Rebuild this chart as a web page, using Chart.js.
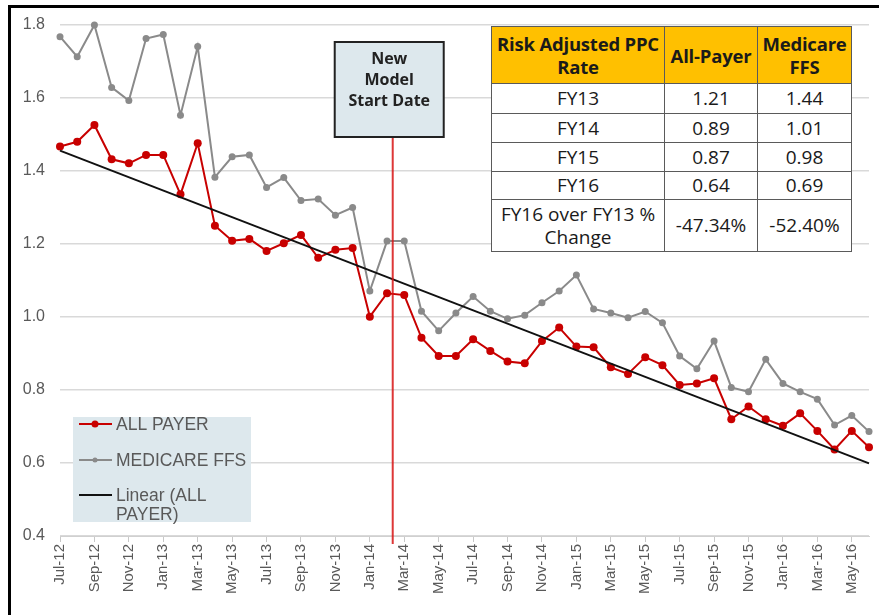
<!DOCTYPE html>
<html>
<head>
<meta charset="utf-8">
<script src="https://cdn.jsdelivr.net/npm/chart.js@4.4.1/dist/chart.umd.min.js"></script>
<style>
  body { margin: 0; background: #fff; }
  #wrap { position: relative; width: 879px; height: 615px; overflow: hidden; }
  #frameLeft { position: absolute; left: 8px; top: 5px; width: 3px; height: 610px; background: #000; }
  #frameTop { position: absolute; left: 8px; top: 5px; width: 871px; height: 3px; background: #000; }
  #ppcTable {
    position: absolute; left: 491px; top: 26px; border-collapse: collapse; table-layout: fixed;
    font-family: "Open Sans", Lato, sans-serif; font-size: 19px; color: #1a1a1a;
    background: #fff;
  }
  #ppcTable td, #ppcTable th { border: 1.5px solid #5a5a5a; text-align: center; padding: 0; line-height: 23px; white-space: nowrap; }
  #ppcTable th { background: #ffc000; font-weight: bold; font-size: 18.5px; letter-spacing: -0.2px; }
</style>
</head>
<body>
<div id="wrap">
  <canvas id="ppcChart" width="879" height="615"></canvas>
  <table id="ppcTable">
    <thead>
      <tr style="height:57px"><th style="width:172px">Risk Adjusted PPC<br>Rate</th><th style="width:92px">All-Payer</th><th style="width:93px">Medicare<br>FFS</th></tr>
    </thead>
    <tbody id="tablaBody"></tbody>
  </table>
  <div id="frameLeft"></div>
  <div id="frameTop"></div>
</div>
<script>
const meses = ['Jul-12','Aug-12','Sep-12','Oct-12','Nov-12','Dec-12','Jan-13','Feb-13','Mar-13','Apr-13','May-13','Jun-13',
  'Jul-13','Aug-13','Sep-13','Oct-13','Nov-13','Dec-13','Jan-14','Feb-14','Mar-14','Apr-14','May-14','Jun-14',
  'Jul-14','Aug-14','Sep-14','Oct-14','Nov-14','Dec-14','Jan-15','Feb-15','Mar-15','Apr-15','May-15','Jun-15',
  'Jul-15','Aug-15','Sep-15','Oct-15','Nov-15','Dec-15','Jan-16','Feb-16','Mar-16','Apr-16','May-16','Jun-16'];
const allPayer = [1.467,1.480,1.526,1.432,1.421,1.444,1.444,1.336,1.476,1.250,1.209,1.214,
  1.181,1.202,1.225,1.162,1.184,1.189,1.001,1.065,1.060,0.943,0.893,0.893,
  0.939,0.907,0.878,0.873,0.934,0.971,0.919,0.917,0.862,0.844,0.890,0.868,
  0.814,0.818,0.832,0.720,0.755,0.720,0.702,0.736,0.688,0.637,0.688,0.643];
const medicareFFS = [1.768,1.713,1.800,1.629,1.593,1.763,1.774,1.553,1.741,1.383,1.439,1.444,
  1.355,1.382,1.319,1.323,1.279,1.300,1.071,1.208,1.208,1.016,0.962,1.011,
  1.056,1.016,0.995,1.005,1.039,1.071,1.115,1.022,1.011,0.998,1.015,0.984,
  0.893,0.858,0.934,0.807,0.795,0.884,0.818,0.795,0.775,0.704,0.730,0.686];
// tendencia lineal (ALL PAYER): extremos
const trendMeses = ['Jul-12', 'Jun-16'];
const trendValores = [1.456, 0.599];
// posicion de la linea "New Model Start Date" (indice de mes, entre Feb-14 y Mar-14)
const inicioModelo = 19.33;
const yTicks = [0.4, 0.6, 0.8, 1.0, 1.2, 1.4, 1.6, 1.8];

const tablaFilas = ['FY13', 'FY14', 'FY15', 'FY16'];
const tablaAllPayer = ['1.21', '0.89', '0.87', '0.64'];
const tablaMedicare = ['1.44', '1.01', '0.98', '0.69'];
const tablaCambio = ['-47.34%', '-52.40%'];

const ROJO = '#c80000';
const GRIS = '#8a8a8a';

function llenarTabla() {
    const tbody = document.getElementById('tablaBody');
    const alturas = [30, 29, 29, 28];
    tablaFilas.forEach((fila, i) => {
        tbody.innerHTML += `<tr style="height:${alturas[i]}px"><td>${fila}</td><td>${tablaAllPayer[i]}</td><td>${tablaMedicare[i]}</td></tr>`;
    });
    tbody.innerHTML += `<tr style="height:52px"><td>FY16 over FY13 %<br>Change</td><td>${tablaCambio[0]}</td><td>${tablaCambio[1]}</td></tr>`;
}

const extrasPlugin = {
    id: 'extras',
    afterDatasetsDraw(chart) {
        const ctx = chart.ctx;
        const x = chart.scales.x;
        const y = chart.scales.y;
        const i0 = Math.floor(inicioModelo);
        const px = x.getPixelForValue(i0) + (x.getPixelForValue(i0 + 1) - x.getPixelForValue(i0)) * (inicioModelo - i0);

        ctx.save();
        // linea vertical
        ctx.strokeStyle = 'rgba(215,20,20,0.85)';
        ctx.lineWidth = 2;
        ctx.beginPath();
        ctx.moveTo(px, 137);
        ctx.lineTo(px, y.bottom + 8);
        ctx.stroke();

        // caja "New Model Start Date"
        const bx = px - 58, bw = 109, by = 42, bh = 95;
        ctx.fillStyle = '#dde8ed';
        ctx.fillRect(bx, by, bw, bh);
        ctx.strokeStyle = '#222';
        ctx.lineWidth = 2;
        ctx.strokeRect(bx, by, bw, bh);
        ctx.fillStyle = '#222';
        ctx.font = 'bold 16px "Open Sans", sans-serif';
        ctx.textAlign = 'center';
        ctx.textBaseline = 'middle';
        ['New', 'Model', 'Start Date'].forEach((t, i) => ctx.fillText(t, bx + bw / 2, 59 + i * 21));

        // leyenda
        ctx.fillStyle = '#dde8ed';
        ctx.fillRect(73, 417, 178, 105);
        const items = [
            { label: ['ALL PAYER'], color: ROJO, r: 3.5, yy: 424 },
            { label: ['MEDICARE FFS'], color: GRIS, r: 2.5, yy: 460 },
            { label: ['Linear (ALL', 'PAYER)'], color: '#111', r: 0, yy: 495 }
        ];
        ctx.textAlign = 'left';
        ctx.font = '17.5px "Liberation Sans", Arial, sans-serif';
        items.forEach(it => {
            ctx.strokeStyle = it.color;
            ctx.lineWidth = 2;
            ctx.beginPath();
            ctx.moveTo(79, it.yy);
            ctx.lineTo(112, it.yy);
            ctx.stroke();
            if (it.r) {
                ctx.fillStyle = it.color;
                ctx.beginPath();
                ctx.arc(95, it.yy, it.r, 0, Math.PI * 2);
                ctx.fill();
            }
            ctx.fillStyle = '#595959';
            it.label.forEach((t, k) => ctx.fillText(t, 116, it.yy + 1 + k * 19));
        });
        ctx.restore();
    }
};

function crearGrafico() {
    const ctx = document.getElementById('ppcChart').getContext('2d');
    new Chart(ctx, {
        type: 'line',
        data: {
            labels: meses,
            datasets: [
                {
                    label: 'ALL PAYER',
                    data: allPayer,
                    borderColor: ROJO,
                    backgroundColor: ROJO,
                    borderWidth: 2,
                    pointRadius: 4,
                    pointBorderWidth: 0,
                    tension: 0,
                    clip: false,
                    order: 2
                },
                {
                    label: 'MEDICARE FFS',
                    data: medicareFFS,
                    borderColor: GRIS,
                    backgroundColor: GRIS,
                    borderWidth: 2,
                    pointRadius: 3.5,
                    pointBorderWidth: 0,
                    tension: 0,
                    clip: false,
                    order: 3
                },
                {
                    label: 'Linear (ALL PAYER)',
                    data: trendMeses.map((m, i) => ({ x: m, y: trendValores[i] })),
                    borderColor: '#111',
                    borderWidth: 2,
                    pointRadius: 0,
                    order: 1
                }
            ]
        },
        options: {
            responsive: false,
            animation: false,
            layout: { padding: { top: 25, right: 0, left: 0, bottom: 0 } },
            plugins: {
                legend: { display: false },
                tooltip: { enabled: false }
            },
            scales: {
                x: {
                    offset: false,
                    afterFit: s => { s.height = 79; s.paddingRight = 10; },
                    border: { color: '#d0d0d0', width: 1 },
                    grid: {
                        drawOnChartArea: false,
                        tickLength: 6,
                        color: c => (c.index % 2 === 0 ? '#c8c8c8' : 'rgba(0,0,0,0)')
                    },
                    ticks: {
                        autoSkip: false,
                        maxRotation: 90,
                        minRotation: 90,
                        padding: 2,
                        color: '#595959',
                        font: { family: '"Liberation Sans", Arial, sans-serif', size: 15 },
                        callback: (v, i) => (i % 2 === 0 ? meses[i] : '')
                    }
                },
                y: {
                    min: 0.4,
                    max: 1.8,
                    afterFit: s => { s.width = 60; },
                    afterBuildTicks: s => { s.ticks = yTicks.map(v => ({ value: v })); },
                    border: { display: false },
                    grid: { color: '#d9d9d9', lineWidth: 1.5, drawTicks: false },
                    ticks: {
                        padding: 15,
                        color: '#595959',
                        font: { family: '"Liberation Sans", Arial, sans-serif', size: 16 },
                        callback: v => v.toFixed(1)
                    }
                }
            }
        },
        plugins: [extrasPlugin]
    });
}

document.addEventListener('DOMContentLoaded', () => {
    llenarTabla();
    crearGrafico();
});
</script>
</body>
</html>
